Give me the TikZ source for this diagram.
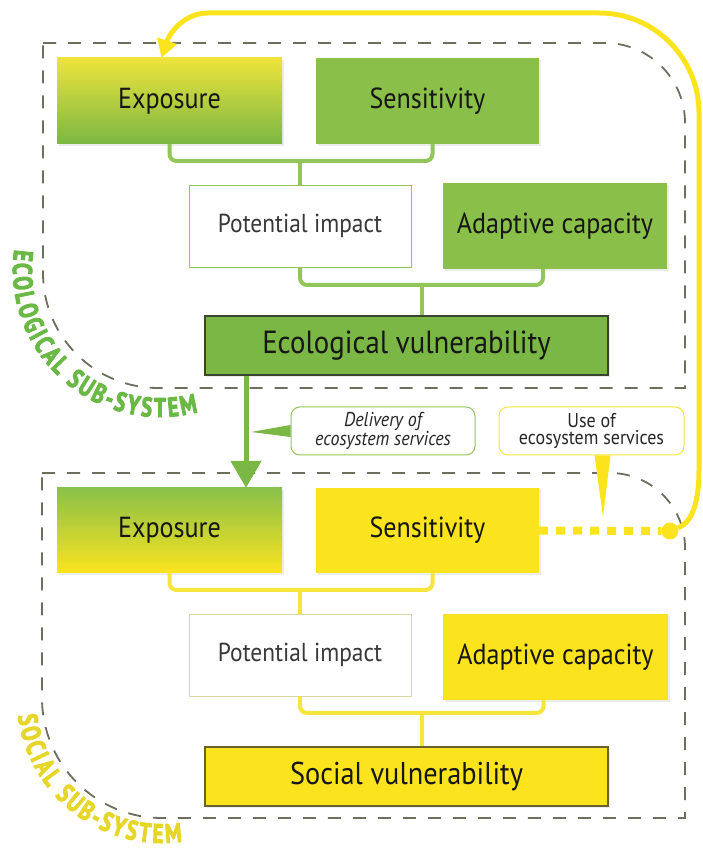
\documentclass[tikz,border=0pt]{standalone}
\usepackage{fontspec}
\setmainfont{PT Sans}[FakeStretch=0.9]
\newfontfamily\subsysfont{PT Sans}[UprightFont={* Bold}, FakeStretch=0.76, FakeBold=3.5]
\usepackage{tikz}
\usetikzlibrary{arrows.meta,decorations.text,shadows}

\definecolor{ecogreen}{HTML}{8AC04A}
\definecolor{ecodeep}{HTML}{7BB744}
\definecolor{ecotop}{HTML}{EEE43C}
\definecolor{ecolinkcol}{HTML}{92C55A}
\definecolor{ecolabel}{HTML}{6AB845}
\definecolor{socyellow}{HTML}{FBE41E}
\definecolor{soclinkcol}{HTML}{F6E53C}
\definecolor{soclabel}{HTML}{E6D62A}
\definecolor{potline}{HTML}{D8D6A2}
\definecolor{framegray}{HTML}{6E6E5E}
\definecolor{labelink}{HTML}{161616}
\definecolor{vulborder}{HTML}{3A4530}
\definecolor{socborder}{HTML}{6B6030}

\begin{document}
\begin{tikzpicture}[x=1pt,y=1pt]
    \tikzstyle{labelbox} = [rectangle, inner sep=0pt, text=labelink, font=\fontsize{29}{30}\selectfont, minimum width=224pt, minimum height=86pt, drop shadow={shadow xshift=2pt, shadow yshift=-2pt, opacity=0.15}]
    \tikzstyle{ecobox} = [labelbox, fill=ecogreen]
    \tikzstyle{socbox} = [labelbox, fill=socyellow]
    \tikzstyle{potbox} = [rectangle, inner sep=0pt, fill=white, text=black!78, font=\fontsize{26}{28}\selectfont, minimum width=222pt, minimum height=82pt, line width=0.8pt]
    \tikzstyle{vulbox} = [labelbox, font=\fontsize{32}{32}\selectfont, minimum width=403pt, minimum height=59pt, line width=1.2pt]
    \tikzstyle{ecolink} = [draw=ecolinkcol, line width=4pt, rounded corners=7pt]
    \tikzstyle{soclink} = [draw=soclinkcol, line width=4pt, rounded corners=7pt]
    \tikzstyle{subframe} = [draw=framegray, line width=1.8pt, dash pattern=on 13pt off 12pt]
    \tikzstyle{callout} = [rectangle, rounded corners=9pt, fill=white, line width=1pt, minimum width=184pt, minimum height=48pt, align=center, inner sep=0pt, font=\fontsize{20}{17}\selectfont, text=black!85]
    \useasboundingbox (0,0) rectangle (702,850);

    \draw[subframe] (43,807) -- (605,807) arc[start angle=90, end angle=0, radius=80pt] -- (685,462) -- (158,462) arc[start angle=270, end angle=180, radius=115pt] -- cycle;
    \draw[subframe] (42,377) -- (610,377) arc[start angle=90, end angle=0, radius=75pt] -- (685,32) -- (162,32) arc[start angle=270, end angle=180, radius=120pt] -- cycle;

    \node[labelbox, minimum width=225pt, top color=ecotop, bottom color=ecodeep] (ecoexp) at (169.5,749) {Exposure};
    \node[ecobox, minimum width=223pt] (ecosens) at (427.5,749) {Sensitivity};
    \node[potbox, draw=ecolinkcol] (ecopot) at (300,624) {Potential impact};
    \node[ecobox] (ecoadapt) at (555,624) {Adaptive capacity};
    \node[vulbox, fill=ecodeep, draw=vulborder] (ecovul) at (406.5,504.5) {Ecological vulnerability};

    \node[labelbox, minimum width=225pt, minimum height=85pt, top color=ecogreen, bottom color=socyellow] (socexp) at (169.5,319.5) {Exposure};
    \node[socbox, minimum width=223pt, minimum height=85pt] (socsens) at (427.5,319.5) {Sensitivity};
    \node[potbox, draw=potline] (socpot) at (300,195) {Potential impact};
    \node[socbox, minimum width=225pt] (socadapt) at (555.5,193) {Adaptive capacity};
    \node[vulbox, fill=socyellow, draw=socborder, font=\fontsize{31.5}{32}\selectfont] (socvul) at (406.5,73.5) {Social vulnerability};

    \coordinate (ecojoinA) at (300,689); \coordinate (ecojoinB) at (422,565);
    \draw[ecolink] (ecoexp.south) |- (ecojoinA) -| ([xshift=5pt]ecosens.south);
    \draw[ecolink] (ecojoinA) -- (ecopot.north);
    \draw[ecolink] (ecopot.south) |- (ecojoinB) -| ([xshift=-12pt]ecoadapt.south);
    \draw[ecolink] (ecojoinB) -- (ecojoinB |- ecovul.north);

    \coordinate (socjoinA) at (300,260); \coordinate (socjoinB) at (422,137);
    \draw[soclink] (socexp.south) |- (socjoinA) -| ([xshift=5pt]socsens.south);
    \draw[soclink] (socjoinA) -- (socpot.north);
    \draw[soclink] (socpot.south) |- (socjoinB) -| ([xshift=-12pt]socadapt.south);
    \draw[soclink] (socjoinB) -- (socjoinB |- socvul.north);

    \coordinate (flowx) at (246,0);
    \draw[draw=ecodeep, line width=5pt, -{Triangle[width=30pt,length=27pt]}] (ecovul.south -| flowx) -- (socexp.north -| flowx);

    \node[callout, draw=ecolinkcol, font=\fontsize{20}{17}\selectfont\itshape] (delivery) at (383,419) {Delivery of\\ecosystem services};
    \node[callout, draw=soclinkcol, minimum width=185pt] (useserv) at (591.5,419) {Use of\\ecosystem services};
    \coordinate (deltip) at (251,418); \coordinate (usetip) at (603,333);
    \fill[ecodeep] ([yshift=6pt]delivery.west) -- (deltip) -- ([yshift=-6pt]delivery.west) -- cycle;
    \fill[socyellow] ([xshift=3pt]useserv.south) -- (usetip) -- ([xshift=19pt]useserv.south) -- cycle;

    \node[circle, fill=socyellow, inner sep=0pt, minimum size=17pt] (loopball) at (670,319) {};
    \draw[draw=socyellow, line width=8pt, dash pattern=on 9pt off 8pt] (socsens.east) -- (loopball);
    \draw[draw=socyellow, line width=5pt, -{Triangle[width=20pt,length=18pt]}] (loopball) .. controls (693,328) and (699,350) .. (699,380) -- (699,737) arc[start angle=0, end angle=90, radius=100pt] -- (208,837) .. controls (185,837) and (170,818) .. ([xshift=-8pt]ecoexp.north);

    \path[decorate, decoration={text along path, text align={fit to path}, text color=ecolabel, text={|\subsysfont\fontsize{27}{27}\selectfont|ECOLOGICAL SUB-SYSTEM}}] (160,580) ++(172:147pt) arc[start angle=172, end angle=285, radius=147pt];
    \path[decorate, decoration={text along path, text align={fit to path}, text color=soclabel, text={|\subsysfont\fontsize{27}{27}\selectfont|SOCIAL SUB-SYSTEM}}] (162,152) ++(187:145pt) arc[start angle=187, end angle=278, radius=145pt];
\end{tikzpicture}
\end{document}
